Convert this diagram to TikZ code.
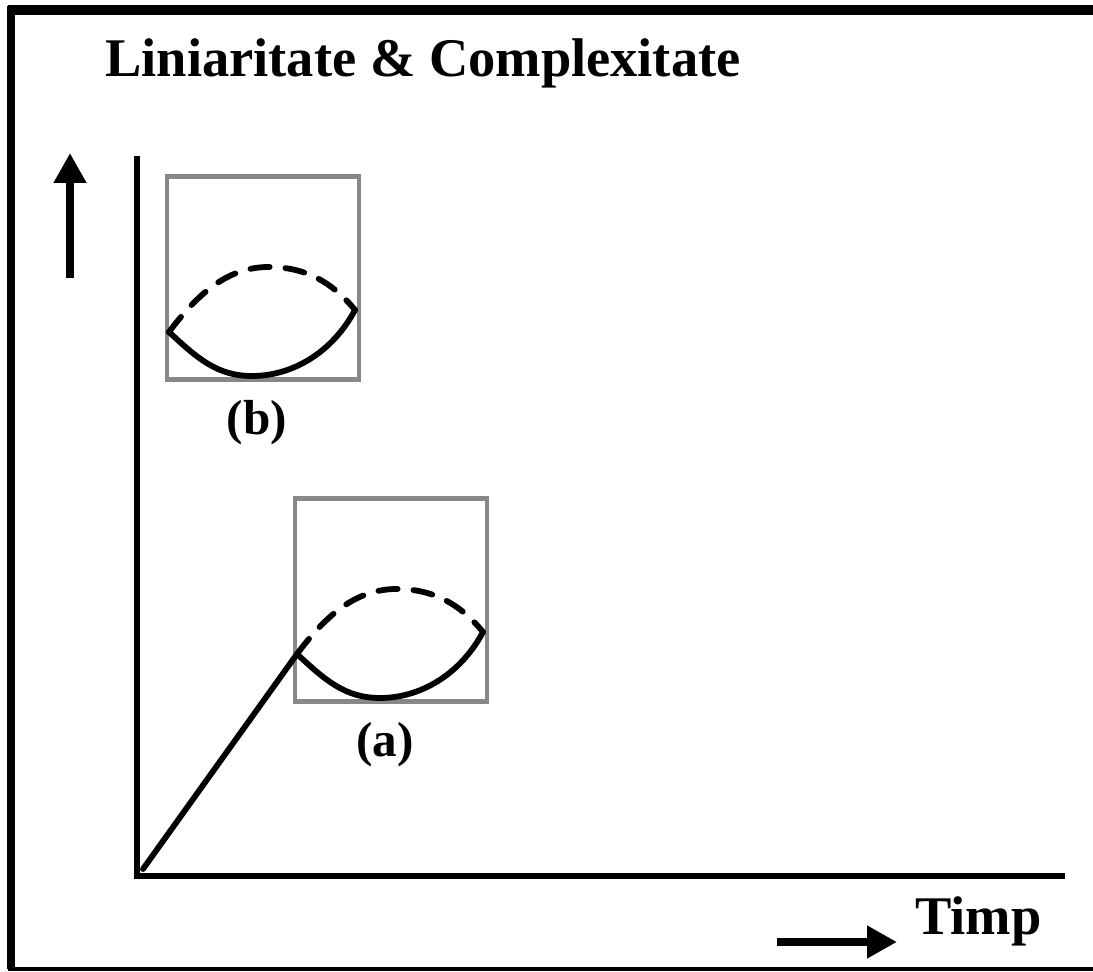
\documentclass[tikz,border=0pt]{standalone}
\usepackage{fontspec}
\setmainfont{Liberation Serif}
\usetikzlibrary{arrows.meta,positioning}
\definecolor{boxgray}{RGB}{136,136,136}
\tikzset{
  frameline/.style={line width=#1,black},
  axis/.style={line width=3.1pt,line cap=rect},
  bigarrow/.style={line width=4.3pt,-{Triangle[length=0.6cm,width=0.62cm]}},
  zoombox/.style={draw=boxgray,line width=2.4pt,minimum width=3.84cm,minimum height=4.06cm,inner sep=0pt},
  curve/.style={line width=3.3pt,line cap=round},
  dashcurve/.style={curve,dash pattern=on 11pt off 9pt},
  title/.style={font=\bfseries\fontsize{31}{36}\selectfont,inner sep=0pt},
  lbl/.style={font=\bfseries\fontsize{28}{33}\selectfont,inner sep=0pt}
}

\begin{document}
\begin{tikzpicture}[x=0.02cm,y=-0.02cm]
  \useasboundingbox (0,0) rectangle (1093,972);
  %Frame
  \draw[frameline=5.7pt] (8,10) -- (1093,10);
  \draw[frameline=4pt] (11,6) -- (11,969);
  \draw[frameline=2.3pt] (8,969) -- (1093,969);
  %Title
  \node[title,anchor=base west] (title) at (105,77) {Liniaritate \& Complexitate};
  %Axis
  \coordinate (O) at (137,876);
  \coordinate (ytop) at (137,159);
  \coordinate (xend) at (1062,876);
  \draw[axis] (ytop) -- (O) -- (xend);
  %Arrows
  \coordinate (up0) at (70,278);
  \coordinate (up1) at (70,153);
  \draw[bigarrow] (up0) -- (up1);
  \coordinate (rt0) at (777,942);
  \coordinate (rt1) at (897,942);
  \draw[bigarrow] (rt0) -- (rt1);
  \node[title,anchor=base west] (timp) at (915,935) {Timp};
  %Boxes
  \foreach \n/\sx/\sy in {a/0/0,b/-128/-322}{
    \begin{scope}[shift={(\sx,\sy)}]
      \node[zoombox] (box\n) at (391,600) {};
      \coordinate (\n-left) at (297,654);
      \coordinate (\n-right) at (483,632);
      \draw[curve] (\n-left) .. controls (325,680) and (345,698) .. (380,698)
        .. controls (420,698) and (460,675) .. (\n-right);
      \draw[dashcurve] (\n-left) .. controls (330,610) and (360,588) .. (400,589)
        .. controls (440,590) and (465,610) .. (\n-right);
      \node[lbl,anchor=north] (lbl\n) at (385,722) {(\n)};
    \end{scope}
  }
  %Line
  \coordinate (start) at (143,869);
  \draw[curve] (start) -- (a-left);
\end{tikzpicture}
\end{document}
